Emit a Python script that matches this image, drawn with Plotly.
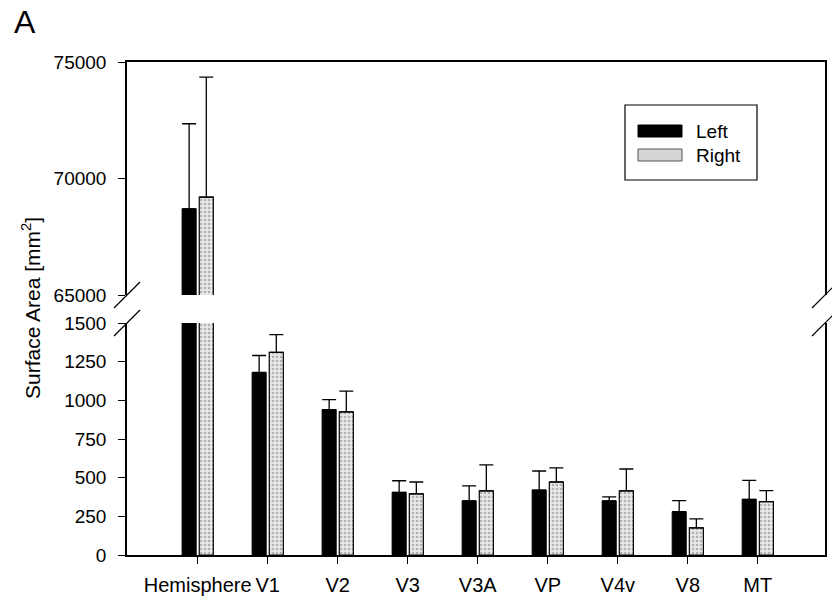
import plotly.graph_objects as go

categories = ["Hemisphere", "V1", "V2", "V3", "V3A", "VP", "V4v", "V8", "MT"]
left_vals = [68700, 1180, 940, 405, 350, 420, 350, 280, 360]
left_err = [3650, 110, 64, 75, 97, 123, 26, 71, 122]
right_vals = [69200, 1310, 925, 395, 415, 472, 414, 175, 345]
right_err = [5150, 115, 135, 77, 168, 91, 142, 58, 71]
low_ticks = [0, 250, 500, 750, 1000, 1250, 1500]
low_tick_text = ["0", "250", "500", "750", "1000", "1250", "1500"]
high_ticks = [65000, 70000, 75000]
high_tick_text = ["65000", "70000", "75000"]

FONT = "Liberation Sans, Arial, sans-serif"
W, H = 832, 600
L, R, T, B = 127, 825, 62, 555  # plot area in pixels


def px(x):
    return (x - L) / (R - L)


def py(y):
    return (B - y) / (B - T)


low_top = py(323)
high_bottom = py(295)

fig = go.Figure()

n = len(categories)
for xa, ya in (("x", "y"), ("x2", "y2")):
    fig.add_trace(go.Bar(
        x=categories, y=left_vals, name="Left", offsetgroup="L",
        xaxis=xa, yaxis=ya, showlegend=False,
        marker=dict(color="black", line=dict(color="black", width=1)),
        error_y=dict(type="data", array=left_err, arrayminus=[0] * n,
                     symmetric=False, color="black", thickness=1.3, width=7),
    ))
    fig.add_trace(go.Bar(
        x=categories, y=right_vals, name="Right", offsetgroup="R",
        xaxis=xa, yaxis=ya, showlegend=False,
        marker=dict(color="#e4e4e4", line=dict(color="black", width=1.2),
                    pattern=dict(shape=".", fgcolor="#7a7a7a", bgcolor="#e8e8e8",
                                 size=4, solidity=0.35)),
        error_y=dict(type="data", array=right_err, arrayminus=[0] * n,
                     symmetric=False, color="black", thickness=1.3, width=7),
    ))

yfont = dict(family=FONT, size=19, color="black")
xfont = dict(family=FONT, size=20, color="black")

fig.update_layout(
    width=W, height=H,
    margin=dict(l=L, r=W - R, t=T, b=H - B, autoexpand=False),
    paper_bgcolor="white", plot_bgcolor="white",
    barmode="group", bargap=0.51, bargroupgap=0.18,
    font=dict(family=FONT, size=18, color="black"),
    xaxis=dict(domain=[0, 1], anchor="y", type="category", automargin=False,
               range=[-1.01, 8.96], showline=True, linecolor="black",
               linewidth=1.5, ticks="outside", ticklen=7, tickcolor="black",
               tickfont=xfont, showgrid=False, zeroline=False,
               ticklabelstandoff=4),
    xaxis2=dict(domain=[0, 1], anchor="y2", matches="x", side="top",
                automargin=False,
                showline=True, linecolor="black", linewidth=1.5,
                showticklabels=False, ticks="", showgrid=False, zeroline=False),
    yaxis=dict(domain=[0, low_top], anchor="x", range=[0, 1500],
               automargin=False,
               tickvals=low_ticks, ticktext=low_tick_text, ticks="outside",
               ticklen=7, tickcolor="black", showline=True, linecolor="black",
               linewidth=1.5, mirror=True, showgrid=False, zeroline=False,
               tickfont=yfont, ticklabelstandoff=8),
    yaxis2=dict(domain=[high_bottom, 1], anchor="x2", range=[65000, 75000],
                automargin=False,
                tickvals=high_ticks, ticktext=high_tick_text, ticks="outside",
                ticklen=7, tickcolor="black", showline=True, linecolor="black",
                linewidth=1.5, mirror=True, showgrid=False, zeroline=False,
                tickfont=yfont, ticklabelstandoff=8),
)

shapes = []
# axis break marks
for (cx, cy) in ((127, 295), (127, 323), (825, 295), (825, 323)):
    shapes.append(dict(type="line", xref="paper", yref="paper",
                       x0=px(cx - 13), y0=py(cy + 13), x1=px(cx + 13), y1=py(cy - 13),
                       line=dict(color="black", width=1.2)))
# legend box
shapes.append(dict(type="rect", xref="paper", yref="paper",
                   x0=px(625), x1=px(757), y0=py(180), y1=py(105),
                   line=dict(color="black", width=1.2), fillcolor="white"))
shapes.append(dict(type="rect", xref="paper", yref="paper",
                   x0=px(638), x1=px(682), y0=py(137), y1=py(125),
                   line=dict(color="black", width=1), fillcolor="black"))
shapes.append(dict(type="rect", xref="paper", yref="paper",
                   x0=px(638), x1=px(682), y0=py(161), y1=py(149),
                   line=dict(color="#555", width=1), fillcolor="#d6d6d6"))

annotations = [
    dict(text="Left", xref="paper", yref="paper", x=px(694), y=py(131),
         xanchor="left", yanchor="middle", showarrow=False,
         font=dict(family=FONT, size=19, color="black")),
    dict(text="Right", xref="paper", yref="paper", x=px(694), y=py(155),
         xanchor="left", yanchor="middle", showarrow=False,
         font=dict(family=FONT, size=19, color="black")),
    dict(text="Surface Area [mm<sup>2</sup>]", xref="paper", yref="paper",
         x=px(31), y=py(308), textangle=-90, xanchor="center", yanchor="middle",
         showarrow=False, font=dict(family=FONT, size=21, color="black")),
    dict(text="A", xref="paper", yref="paper", x=px(12), y=py(22),
         xanchor="left", yanchor="middle", showarrow=False,
         font=dict(family=FONT, size=32, color="black")),
]

fig.update_layout(shapes=shapes, annotations=annotations)

fig.write_html("out.html")
